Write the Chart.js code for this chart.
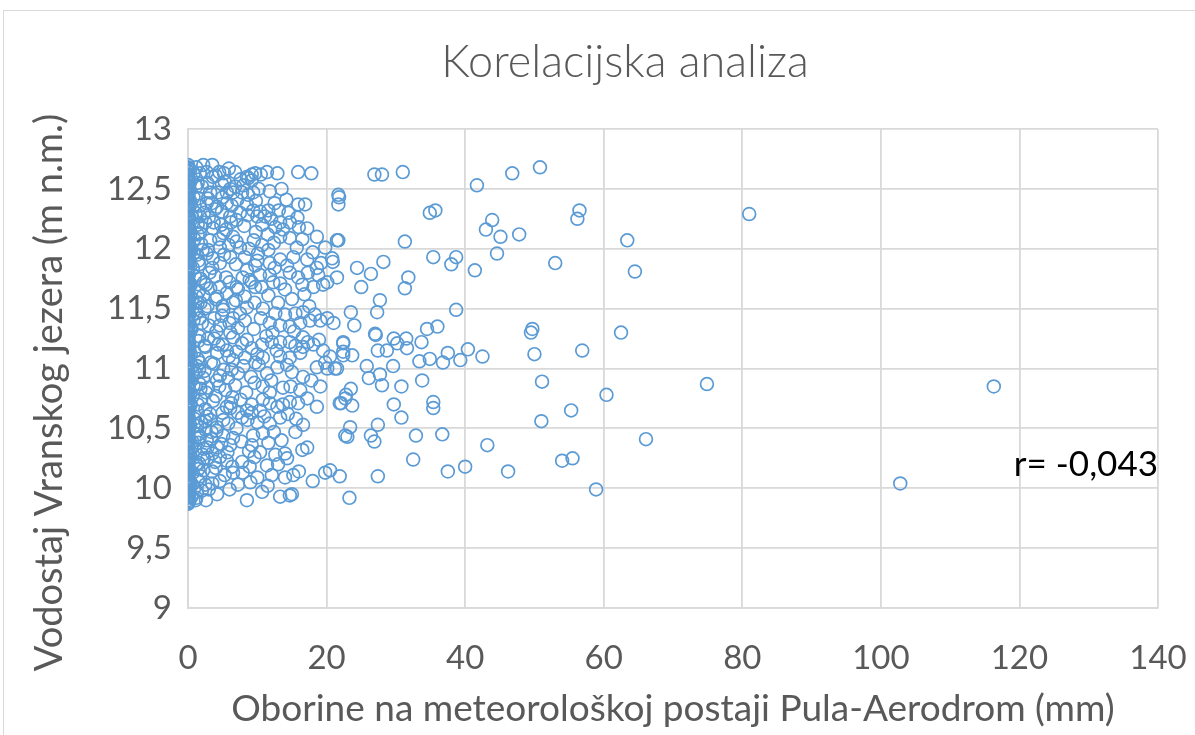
<!DOCTYPE html>
<html>
<head>
<meta charset="utf-8">
<title>Korelacijska analiza</title>
<script src="https://cdn.jsdelivr.net/npm/chart.js@4.4.1/dist/chart.umd.min.js"></script>
<style>
  html, body { margin: 0; padding: 0; background: #fff; overflow: hidden; width: 1195px; height: 735px; }
  #frame { position: absolute; left: 3px; top: 10px; width: 1260px; height: 800px; border: 1px solid #d9d9d9; }
  #wrap { position: absolute; left: 0; top: 0; width: 1250px; height: 735px; }
</style>
</head>
<body>
<div id="frame"></div>
<div id="wrap"><canvas id="chart" width="1250" height="735"></canvas></div>
<script>
// tekstovi
const chartTitle = 'Korelacijska analiza';
const xTitle = 'Oborine na meteorološkoj postaji Pula-Aerodrom (mm)';
const yTitle = 'Vodostaj Vranskog jezera (m n.m.)';
const rLabel = 'r= -0,043';

// osi
const xTicks = [0, 20, 40, 60, 80, 100, 120, 140];
const yTicks = [9, 9.5, 10, 10.5, 11, 11.5, 12, 12.5, 13];

// dani bez oborina (x = 0 mm) - vodostaj (m n.m.)
const dryDayLevels = [
  12.70, 12.68, 12.67, 12.65, 12.62, 12.61, 12.59, 12.57, 12.56, 12.53, 12.51, 12.50,
  12.48, 12.45, 12.44, 12.42, 12.41, 12.38, 12.36, 12.35, 12.33, 12.31, 12.28, 12.27,
  12.25, 12.24, 12.21, 12.19, 12.18, 12.16, 12.13, 12.12, 12.10, 12.09, 12.06, 12.04,
  12.03, 12.01, 11.98, 11.97, 11.95, 11.94, 11.91, 11.89, 11.88, 11.86, 11.83, 11.82,
  11.80, 11.79, 11.76, 11.74, 11.73, 11.71, 11.68, 11.67, 11.65, 11.63, 11.62, 11.59,
  11.57, 11.56, 11.54, 11.51, 11.50, 11.48, 11.47, 11.44, 11.42, 11.41, 11.39, 11.36,
  11.35, 11.33, 11.31, 11.30, 11.27, 11.25, 11.24, 11.22, 11.19, 11.18, 11.16, 11.15,
  11.12, 11.10, 11.09, 11.07, 11.04, 11.03, 11.01, 10.99, 10.98, 10.95, 10.93, 10.92,
  10.90, 10.87, 10.86, 10.84, 10.83, 10.80, 10.78, 10.77, 10.75, 10.72, 10.71, 10.69,
  10.68, 10.65, 10.63, 10.62, 10.60, 10.57, 10.56, 10.54, 10.52, 10.51, 10.48, 10.46,
  10.45, 10.43, 10.40, 10.39, 10.37, 10.36, 10.33, 10.31, 10.30, 10.28, 10.25, 10.24,
  10.22, 10.20, 10.19, 10.16, 10.14, 10.13, 10.11, 10.08, 10.07, 10.05, 10.04, 10.01,
  9.99, 9.98, 9.96, 9.93, 9.92, 9.90, 9.88, 9.87
];

// tragovi oborina (0,1-0,3 mm)
const traceRain = [
  [0.1, 12.64], [0.2, 12.55], [0.1, 12.46], [0.3, 12.40], [0.1, 12.33], [0.2, 12.26],
  [0.1, 12.19], [0.3, 12.11], [0.1, 12.05], [0.2, 11.97], [0.1, 11.92], [0.3, 11.85],
  [0.1, 11.78], [0.2, 11.72], [0.1, 11.66], [0.3, 11.60], [0.1, 11.53], [0.2, 11.45],
  [0.1, 11.38], [0.3, 11.32], [0.1, 11.26], [0.2, 11.17], [0.1, 11.11], [0.3, 11.05],
  [0.1, 10.97], [0.2, 10.91], [0.1, 10.85], [0.3, 10.79], [0.1, 10.73], [0.2, 10.66],
  [0.1, 10.59], [0.3, 10.53], [0.1, 10.47], [0.2, 10.41], [0.1, 10.34], [0.3, 10.27],
  [0.1, 10.21], [0.2, 10.15], [0.1, 10.09], [0.3, 10.02], [0.1, 9.97], [0.2, 9.89]
];

// slabe oborine (0-2,5 mm) [mm, m n.m.]
const lightRain = [
  [0.3, 12.66], [0.5, 12.58], [0.2, 12.49], [0.8, 12.43], [0.4, 12.37], [1.1, 12.30],
  [0.6, 12.22], [0.3, 12.15], [0.9, 12.08], [0.5, 12.00], [1.3, 11.95], [0.2, 11.90],
  [0.7, 11.84], [1.0, 11.77], [0.4, 11.70], [1.5, 11.64], [0.6, 11.58], [0.3, 11.52],
  [1.2, 11.46], [0.8, 11.40], [0.5, 11.33], [1.6, 11.27], [0.2, 11.21], [0.9, 11.14],
  [1.4, 11.08], [0.6, 11.02], [1.1, 10.96], [0.3, 10.89], [1.8, 10.83], [0.7, 10.77],
  [0.4, 10.70], [1.3, 10.64], [0.9, 10.58], [0.2, 10.51], [1.5, 10.45], [0.6, 10.39],
  [1.0, 10.32], [0.4, 10.26], [1.2, 10.20], [0.7, 10.13], [0.3, 10.06], [0.9, 10.00],
  [0.5, 9.93], [1.1, 9.90], [0.2, 9.95], [1.4, 12.55], [1.7, 12.36], [1.9, 12.18],
  [2.1, 11.99], [1.6, 11.87], [2.3, 11.72], [1.8, 11.55], [2.0, 11.38], [2.4, 11.19],
  [1.7, 11.05], [2.2, 10.92], [1.9, 10.74], [2.5, 10.56], [1.6, 10.42], [2.1, 10.28],
  [1.8, 10.10], [1.3, 9.97], [0.8, 12.62], [1.2, 12.52], [0.5, 12.27], [1.4, 12.12],
  [0.8, 11.96], [1.2, 11.60], [1.0, 11.49], [0.4, 11.12], [1.6, 10.99], [0.8, 10.86],
  [1.3, 10.52], [0.5, 10.35], [1.5, 10.16], [0.6, 10.03]
];

// umjerene oborine (1-25 mm)
const moderateRain = [
  [2.2, 12.70], [3.5, 12.70], [5.9, 12.67], [4.5, 12.64], [5.2, 12.63], [8.5, 12.60],
  [9.2, 12.62], [9.7, 12.63], [11.4, 12.64], [12.9, 12.63], [15.9, 12.64], [17.8, 12.63],
  [9.2, 12.57], [8.7, 12.59], [1.7, 12.63], [2.7, 12.64], [3.6, 12.60], [5.3, 12.56],
  [6.8, 12.52], [9.4, 12.47], [8.7, 12.45], [7.8, 12.47], [6.5, 12.47], [5.6, 12.47],
  [4.3, 12.47], [3.2, 12.47], [15.9, 12.37], [16.9, 12.37], [13.1, 12.32], [11.6, 12.32],
  [10.4, 12.31], [11.1, 12.27], [10.0, 12.27], [8.5, 12.37], [9.4, 12.32], [7.5, 12.30],
  [6.1, 12.27], [13.3, 12.22], [14.7, 12.22], [12.6, 12.18], [13.7, 12.16], [10.7, 12.20],
  [17.2, 12.17], [18.6, 12.10], [21.5, 12.07], [19.8, 12.01], [20.8, 11.92], [20.9, 11.89],
  [14.7, 12.09], [13.3, 12.10], [15.7, 12.01], [10.7, 12.03], [11.6, 11.99], [10.1, 11.96],
  [13.3, 11.91], [14.3, 11.86], [17.2, 11.91], [18.6, 11.84], [11.8, 11.88], [9.7, 11.86],
  [8.2, 11.93], [7.5, 12.01], [6.5, 12.10], [5.1, 12.13], [3.6, 12.17], [3.2, 12.07],
  [4.6, 12.01], [6.1, 11.93], [4.6, 11.88], [2.7, 11.96], [1.7, 12.13], [1.7, 12.27],
  [2.7, 12.38], [4.2, 12.35], [5.6, 12.38], [7.1, 12.41], [21.7, 12.45], [21.7, 12.37],
  [21.5, 11.76], [20.1, 11.72], [18.8, 11.78], [17.3, 11.80], [15.9, 11.76], [14.7, 11.80],
  [13.3, 11.71], [11.8, 11.78], [10.4, 11.78], [9.2, 11.72], [7.9, 11.76], [16.5, 11.70],
  [18.1, 11.68], [11.6, 11.61], [9.7, 11.68], [8.2, 11.60], [6.5, 11.55], [5.6, 11.63],
  [4.6, 11.68], [4.2, 11.60], [3.2, 11.67], [2.2, 11.61], [12.6, 11.46], [14.0, 11.45],
  [15.5, 11.46], [16.6, 11.47], [18.3, 11.45], [20.1, 11.42], [11.8, 11.38], [13.3, 11.36],
  [14.7, 11.35], [16.2, 11.38], [17.6, 11.40], [19.1, 11.40], [6.5, 11.42], [8.2, 11.40],
  [7.2, 11.34], [6.1, 11.30], [4.6, 11.36], [5.1, 11.49], [8.5, 11.51], [12.1, 11.22],
  [13.3, 11.22], [14.7, 11.22], [16.6, 11.26], [17.3, 11.22], [16.6, 11.18], [18.1, 11.20],
  [19.5, 11.15], [22.4, 11.22], [22.4, 11.14], [10.7, 11.20], [9.2, 11.17], [7.8, 11.21],
  [6.5, 11.26], [13.3, 11.10], [14.7, 11.09], [16.2, 11.13], [12.9, 11.01], [14.3, 11.03],
  [18.6, 11.01], [20.1, 11.00], [21.5, 11.00], [10.8, 11.09], [9.7, 11.05], [8.2, 11.09],
  [6.5, 11.07], [5.6, 11.15], [4.2, 11.13], [5.1, 10.99], [7.2, 10.96], [11.4, 10.96],
  [16.6, 10.93], [13.7, 10.84], [10.8, 10.85], [19.1, 10.85], [17.2, 10.75], [15.9, 10.71],
  [14.7, 10.72], [13.7, 10.70], [12.9, 10.68], [11.8, 10.71], [10.8, 10.74], [9.2, 10.70],
  [8.5, 10.65], [7.2, 10.63], [9.2, 10.63], [10.4, 10.65], [13.3, 10.59], [11.8, 10.54],
  [10.0, 10.55], [7.8, 10.59], [6.1, 10.67], [5.1, 10.57], [4.2, 10.51], [3.2, 10.57],
  [2.5, 10.49], [1.7, 10.43], [15.5, 10.47], [16.6, 10.53], [10.8, 10.46], [9.4, 10.44],
  [9.2, 10.36], [10.4, 10.30], [12.6, 10.28], [14.0, 10.29], [14.3, 10.25], [17.2, 10.34],
  [16.5, 10.32], [6.5, 10.42], [6.1, 10.36], [5.1, 10.44], [4.2, 10.34], [4.6, 10.26],
  [3.5, 10.29], [2.7, 10.40], [7.8, 10.22], [6.4, 10.18], [6.5, 10.13], [7.9, 10.13],
  [5.3, 10.11], [3.5, 10.14], [2.2, 10.15], [2.5, 10.03], [7.2, 10.03], [10.0, 10.09],
  [11.4, 10.19], [12.1, 10.11], [14.0, 10.09], [15.2, 10.11], [10.7, 9.97], [13.3, 9.93],
  [14.7, 9.94], [8.5, 9.90], [19.8, 10.13], [20.5, 10.15], [21.9, 10.10], [22.7, 10.75],
  [21.9, 10.71], [22.7, 10.44], [23.3, 9.92],
  [2.8, 12.55], [3.9, 12.33], [2.5, 12.22], [4.8, 12.20], [3.1, 11.80], [5.5, 11.76],
  [2.4, 11.50], [3.8, 11.42], [2.9, 11.25], [4.4, 11.20], [3.3, 11.05], [5.8, 10.92],
  [2.6, 10.80], [4.0, 10.77], [3.2, 10.62], [5.6, 10.68], [2.8, 10.34], [3.9, 10.22],
  [2.3, 10.25], [3.0, 9.99], [4.5, 10.85], [5.0, 11.52], [3.6, 11.92], [6.2, 12.22],
  [2.9, 12.42], [4.1, 11.31], [5.9, 11.10], [3.4, 10.47], [6.4, 10.76], [7.0, 11.68]
];

// dodatni dani s oborinama 1-20 mm
const frequentRain = [
  [1.2, 12.68], [4.0, 12.61], [6.8, 12.64], [10.5, 12.62], [7.6, 12.58],
  [2.0, 12.52], [4.9, 12.54], [6.1, 12.50], [8.0, 12.53], [10.2, 12.50], [11.8, 12.48], [13.5, 12.50],
  [1.5, 12.42], [3.4, 12.38], [5.0, 12.43], [6.3, 12.36], [9.8, 12.40], [12.5, 12.38], [14.2, 12.41],
  [2.3, 12.30], [3.0, 12.26], [4.9, 12.31], [7.0, 12.24], [8.6, 12.28], [12.0, 12.25], [14.5, 12.30], [15.8, 12.26],
  [1.4, 12.20], [3.7, 12.22], [5.5, 12.16], [8.1, 12.19], [9.8, 12.14], [11.5, 12.12], [16.0, 12.18],
  [1.9, 12.04], [2.9, 11.99], [4.5, 12.08], [5.9, 12.03], [7.0, 12.06], [8.8, 12.00], [9.5, 12.07],
  [12.4, 12.05], [16.5, 12.08], [18.0, 11.97],
  [1.5, 11.90], [3.5, 11.84], [5.2, 11.95], [6.9, 11.87], [8.5, 11.82], [10.0, 11.90], [12.5, 11.84],
  [15.2, 11.93], [19.2, 11.88],
  [1.8, 11.75], [2.6, 11.70], [3.9, 11.77], [6.0, 11.72], [7.2, 11.66], [8.9, 11.74], [10.6, 11.68],
  [12.3, 11.72], [14.0, 11.66], [16.8, 11.62], [19.5, 11.70],
  [1.4, 11.55], [2.8, 11.52], [4.0, 11.58], [6.9, 11.57], [9.6, 11.55], [10.8, 11.50], [13.0, 11.55],
  [15.0, 11.58], [17.5, 11.52],
  [1.7, 11.42], [3.0, 11.36], [4.9, 11.44], [6.0, 11.38], [7.5, 11.46], [9.5, 11.33], [10.5, 11.42],
  [12.2, 11.30], [15.3, 11.31], [21.0, 11.38],
  [1.5, 11.23], [2.5, 11.18], [3.8, 11.25], [5.0, 11.20], [7.0, 11.14], [8.5, 11.24], [10.0, 11.12],
  [11.3, 11.27], [12.8, 11.15], [15.5, 11.19], [18.9, 11.24], [20.5, 11.10],
  [1.3, 11.02], [2.4, 10.98], [3.7, 11.04], [4.6, 10.94], [6.3, 10.99], [8.0, 11.02], [9.1, 10.93],
  [10.2, 11.03], [12.0, 10.90], [15.0, 10.97], [17.8, 10.90], [19.8, 11.05],
  [1.7, 10.87], [2.9, 10.84], [4.2, 10.90], [5.4, 10.82], [6.8, 10.86], [8.4, 10.80], [9.6, 10.88],
  [11.8, 10.80], [14.8, 10.85], [16.2, 10.82],
  [1.4, 10.70], [2.5, 10.66], [3.6, 10.73], [5.0, 10.63], [6.2, 10.71], [7.6, 10.74], [11.0, 10.60],
  [14.4, 10.62], [18.6, 10.68],
  [1.9, 10.55], [2.7, 10.60], [4.1, 10.48], [5.8, 10.54], [7.0, 10.50], [8.6, 10.57], [12.4, 10.47],
  [15.6, 10.58],
  [1.5, 10.38], [2.3, 10.33], [3.4, 10.41], [4.8, 10.37], [5.7, 10.30], [7.7, 10.39], [8.8, 10.31],
  [11.6, 10.38], [13.5, 10.40],
  [1.6, 10.21], [2.8, 10.25], [4.0, 10.17], [5.6, 10.23], [8.9, 10.18], [9.6, 10.26], [13.0, 10.20],
  [16.0, 10.14],
  [1.4, 10.07], [2.0, 9.98], [3.5, 10.04], [4.6, 10.06], [6.0, 9.99], [9.0, 10.05], [11.5, 10.02],
  [18.0, 10.06],
  [1.2, 9.92], [2.6, 9.90], [4.2, 9.95], [15.0, 9.95]
];

// jake oborine (> 20 mm)
const heavyRain = [
  [27.4, 10.10], [32.5, 10.24], [37.5, 10.14], [40.0, 10.18], [46.2, 10.14], [54.0, 10.23],
  [55.5, 10.25], [58.9, 9.99], [50.8, 12.68], [46.8, 12.63], [41.7, 12.53], [26.9, 12.62],
  [28.0, 12.62], [31.0, 12.64], [43.9, 12.24], [43.0, 12.16], [45.1, 12.10], [47.8, 12.12],
  [56.5, 12.32], [56.2, 12.25], [63.4, 12.07], [44.6, 11.96], [53.0, 11.88], [64.5, 11.81],
  [41.4, 11.82], [38.7, 11.49], [49.7, 11.33], [49.5, 11.30], [62.5, 11.30], [21.8, 12.43],
  [21.7, 12.07], [31.3, 12.06], [34.9, 12.30], [35.7, 12.32], [35.4, 11.93], [38.7, 11.93],
  [38.0, 11.87], [28.2, 11.89], [24.4, 11.84], [26.4, 11.79], [31.8, 11.76], [31.3, 11.67],
  [25.0, 11.68], [27.7, 11.57], [27.3, 11.47], [23.5, 11.47], [24.0, 11.36], [27.0, 11.29],
  [29.7, 11.25], [31.5, 11.25], [34.5, 11.33], [36.0, 11.35], [50.0, 11.12], [56.9, 11.15],
  [74.9, 10.87], [60.4, 10.78], [51.1, 10.89], [55.3, 10.65], [51.0, 10.56], [66.1, 10.41],
  [43.2, 10.36], [36.7, 10.45], [32.9, 10.44], [30.8, 10.59], [29.7, 10.70], [35.4, 10.67],
  [35.4, 10.72], [33.8, 10.90], [30.8, 10.85], [28.0, 10.86], [27.4, 10.53], [26.4, 10.44],
  [26.9, 10.39], [23.4, 10.51], [23.0, 10.43], [23.7, 10.69], [22.1, 10.71], [23.5, 10.83],
  [22.8, 10.78], [42.5, 11.10], [40.4, 11.16], [39.3, 11.07], [36.8, 11.05], [37.5, 11.13],
  [34.9, 11.08], [33.4, 11.06], [33.7, 11.22], [31.6, 11.17], [30.2, 11.21], [28.7, 11.15],
  [27.4, 11.15], [29.6, 11.02], [25.8, 11.02], [26.1, 10.92], [27.7, 10.95], [22.4, 11.21],
  [22.4, 11.11], [23.7, 11.11], [21.2, 11.00], [27.1, 11.28], [81.0, 12.29], [116.3, 10.85],
  [102.8, 10.04]
];

const points = dryDayLevels.map(y => ({ x: 0, y: y }))
  .concat([...traceRain, ...lightRain, ...moderateRain, ...frequentRain, ...heavyRain]
    .map(p => ({ x: p[0], y: p[1] })));

const textGrey = '#595959';
const gridGrey = '#d9d9d9';
const fontName = 'Lato, "Open Sans", sans-serif';

// naslov y osi i r oznaka
const extraText = {
  id: 'extraText',
  afterDraw(chart) {
    const ctx = chart.ctx;
    const area = chart.chartArea;
    ctx.save();
    ctx.fillStyle = textGrey;
    ctx.font = '38px ' + fontName;
    ctx.textAlign = 'center';
    ctx.textBaseline = 'middle';
    ctx.translate(50, (area.top + area.bottom) / 2 + 24);
    ctx.rotate(-Math.PI / 2);
    ctx.fillText(yTitle, 0, 0);
    ctx.restore();

    ctx.save();
    ctx.fillStyle = '#000';
    ctx.font = '35px ' + fontName;
    ctx.textAlign = 'right';
    ctx.textBaseline = 'middle';
    ctx.fillText(rLabel, chart.scales.x.getPixelForValue(140), chart.scales.y.getPixelForValue(10.2));
    ctx.restore();
  }
};

new Chart(document.getElementById('chart').getContext('2d'), {
  type: 'scatter',
  data: {
    datasets: [{
      data: points,
      pointStyle: 'circle',
      pointRadius: 6.4,
      pointBorderWidth: 1.7,
      borderColor: '#5b9bd5',
      backgroundColor: 'rgba(0,0,0,0)',
      pointHoverRadius: 6.4
    }]
  },
  options: {
    responsive: false,
    animation: false,
    devicePixelRatio: 1,
    layout: { padding: 0 },
    plugins: {
      legend: { display: false },
      tooltip: { enabled: false },
      title: {
        display: true,
        text: chartTitle,
        color: textGrey,
        font: { family: fontName, size: 45, weight: 300 },
        padding: { top: 35, bottom: 40 }
      }
    },
    scales: {
      x: {
        type: 'linear',
        min: 0,
        max: 140,
        afterBuildTicks: s => { s.ticks = xTicks.map(v => ({ value: v })); },
        afterFit: s => { s.height = 127; s.paddingRight = 92; s.paddingLeft = 0; },
        grid: { color: gridGrey, lineWidth: 1.8, drawTicks: false },
        border: { color: gridGrey, width: 1.8 },
        ticks: { color: textGrey, font: { family: fontName, size: 33 }, padding: 31 },
        title: {
          display: true,
          text: xTitle,
          color: textGrey,
          font: { family: fontName, size: 37 },
          padding: { top: 0, bottom: 4 }
        }
      },
      y: {
        min: 9,
        max: 13,
        afterBuildTicks: s => { s.ticks = yTicks.map(v => ({ value: v })); },
        afterFit: s => { s.width = 188; },
        grid: { color: gridGrey, lineWidth: 1.8, drawTicks: false },
        border: { color: gridGrey, width: 1.8 },
        ticks: {
          color: textGrey,
          font: { family: fontName, size: 33 },
          padding: 16,
          callback: v => String(v).replace('.', ',')
        }
      }
    }
  },
  plugins: [extraText]
});
</script>
</body>
</html>
